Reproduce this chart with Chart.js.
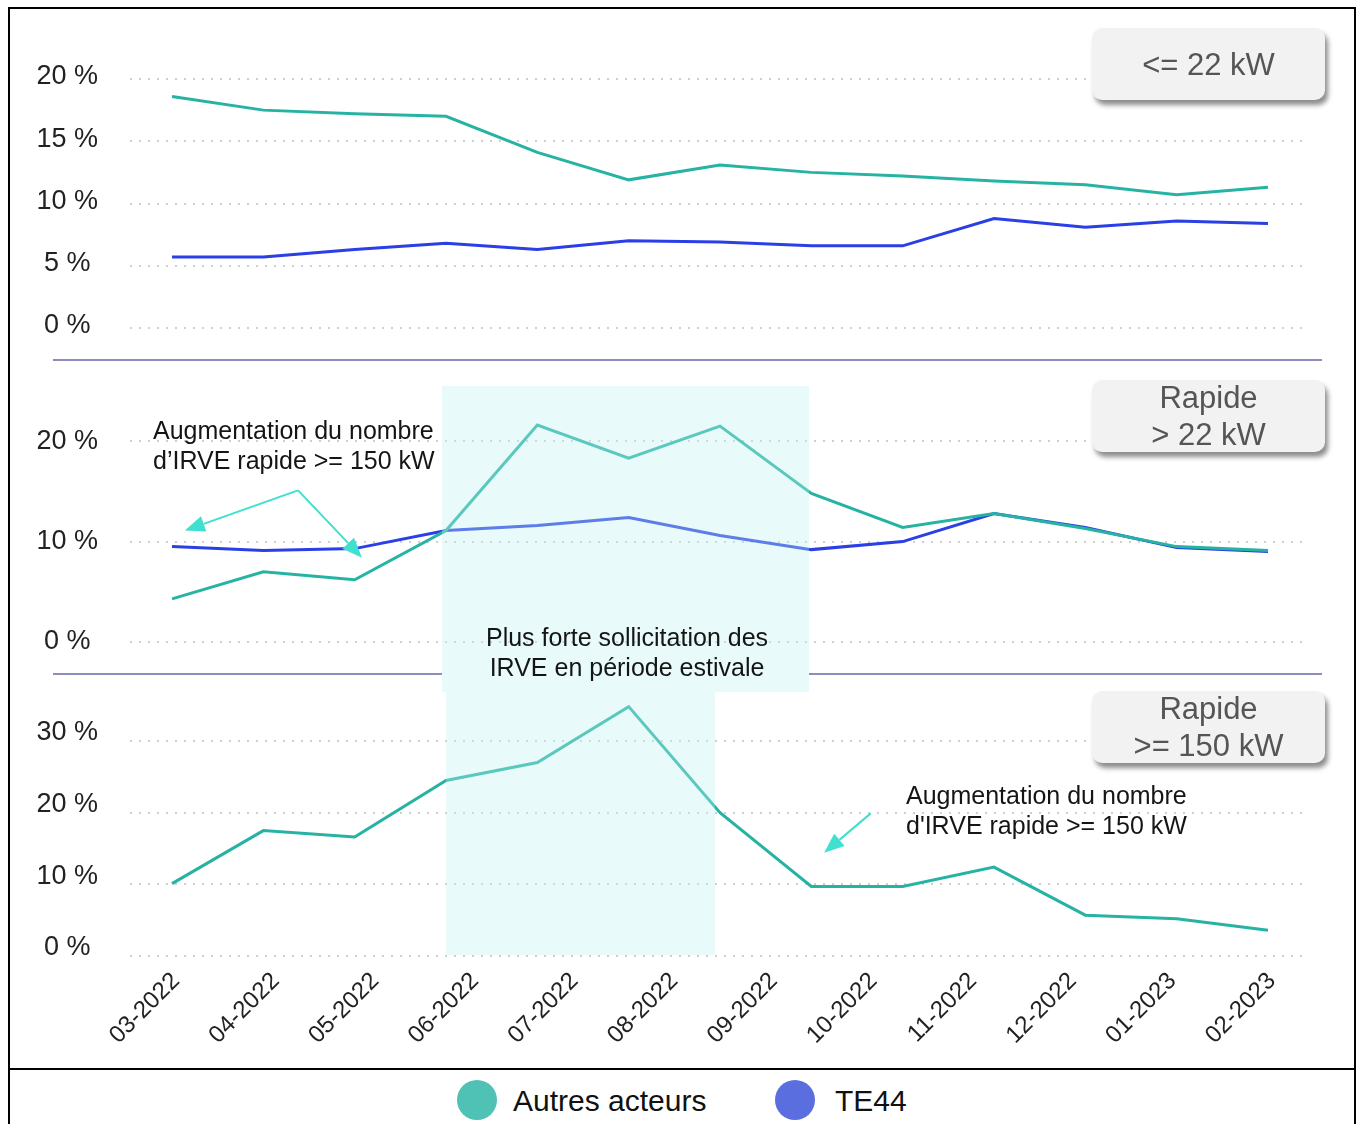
<!DOCTYPE html>
<html>
<head>
<meta charset="utf-8">
<script src="https://cdn.jsdelivr.net/npm/chart.js@4.4.1/dist/chart.umd.min.js"></script>
<style>
html,body{margin:0;padding:0;background:#fff;}
#wrap{position:relative;width:1357px;height:1124px;overflow:hidden;font-family:"Liberation Sans",Arial,sans-serif;background:#fff;}
canvas{position:absolute;left:0;}
.sep{position:absolute;height:2px;background:#8c8cbf;}
.shade{position:absolute;background:rgba(190,242,242,0.35);}
.note{position:absolute;font-size:25px;line-height:30px;color:#151515;white-space:nowrap;}
.box{position:absolute;width:233px;height:72px;background:#f2f2f2;border-radius:10px;box-shadow:3px 5px 5px rgba(0,0,0,0.45);color:#555;font-size:31px;line-height:37px;text-align:center;display:flex;flex-direction:column;justify-content:center;}
.bl{position:absolute;background:#000;}
.dot{position:absolute;width:40px;height:40px;border-radius:50%;}
.leg{position:absolute;font-size:30px;line-height:40px;color:#111;white-space:nowrap;}
</style>
</head>
<body>
<div id="wrap">
  <canvas id="c1" width="1357" height="360" style="top:0;width:1357px;height:360px"></canvas>
  <canvas id="c2" width="1357" height="314" style="top:360px;width:1357px;height:314px"></canvas>
  <canvas id="c3" width="1357" height="395" style="top:674px;width:1357px;height:395px"></canvas>

  <div class="sep" style="left:53px;top:359px;width:1269px;"></div>
  <div class="sep" style="left:53px;top:673px;width:389px;"></div>
  <div class="sep" style="left:809px;top:673px;width:513px;"></div>

  <div class="shade" style="left:442px;top:386px;width:367px;height:306px;"></div>
  <div class="shade" style="left:446px;top:692px;width:269px;height:263px;"></div>

  <div class="note" style="left:153px;top:415px;">Augmentation du nombre<br>d’IRVE rapide &gt;= 150 kW</div>
  <div class="note" style="left:484px;top:622px;text-align:center;width:286px;">Plus forte sollicitation des<br>IRVE en période estivale</div>
  <div class="note" style="left:906px;top:780px;">Augmentation du nombre<br>d'IRVE rapide &gt;= 150 kW</div>

  <div class="box" style="left:1092px;top:28px;"><div>&lt;= 22 kW</div></div>
  <div class="box" style="left:1092px;top:380px;"><div>Rapide</div><div>&gt; 22 kW</div></div>
  <div class="box" style="left:1092px;top:691px;"><div>Rapide</div><div>&gt;= 150 kW</div></div>

  <div class="bl" style="left:8px;top:7px;width:1348px;height:2px;"></div>
  <div class="bl" style="left:8px;top:7px;width:2px;height:1117px;"></div>
  <div class="bl" style="left:1354px;top:7px;width:2px;height:1117px;"></div>
  <div class="bl" style="left:8px;top:1068px;width:1348px;height:2px;"></div>

  <div class="dot" style="left:457px;top:1080px;background:#50c1b5;"></div>
  <div class="leg" style="left:513px;top:1081px;">Autres acteurs</div>
  <div class="dot" style="left:775px;top:1080px;background:#5a6ee0;"></div>
  <div class="leg" style="left:835px;top:1081px;">TE44</div>
</div>

<script>
// ---- Data ----
const months = ['03-2022','04-2022','05-2022','06-2022','07-2022','08-2022','09-2022','10-2022','11-2022','12-2022','01-2023','02-2023'];
const seriesNames = ['Autres acteurs', 'TE44'];
// Panel "<= 22 kW"
const autresLe22 = [18.6, 17.5, 17.2, 17.0, 14.1, 11.9, 13.1, 12.5, 12.2, 11.8, 11.5, 10.7, 11.3];
const te44Le22   = [5.7, 5.7, 6.3, 6.8, 6.3, 7.0, 6.9, 6.6, 6.6, 8.8, 8.1, 8.6, 8.4];
// Panel "Rapide > 22 kW"
const autresGt22 = [4.3, 7.0, 6.2, 11.1, 21.6, 18.3, 21.5, 14.8, 11.4, 12.8, 11.3, 9.5, 9.1];
const te44Gt22   = [9.5, 9.1, 9.3, 11.1, 11.6, 12.4, 10.6, 9.2, 10.0, 12.8, 11.4, 9.4, 9.0];
// Panel "Rapide >= 150 kW"
const autresGe150 = [10.1, 17.5, 16.6, 24.5, 27.0, 34.8, 20.0, 9.7, 9.7, 12.4, 5.7, 5.2, 3.6];
// y tick steps per panel
const yStep1 = 5, yStep2 = 10, yStep3 = 10;

// ---- Styling ----
const TEAL = '#27b3a3';
const BLUE = '#2a3fe5';
const ARROW = '#3fe0d0';
const FONT = '"Liberation Sans", Arial, sans-serif';

function toXY(arr){ return arr.map((v,i)=>({x:i, y:v})); }
function ds(label, arr, color){
  return {label, data: toXY(arr), borderColor: color, backgroundColor: color,
    borderWidth: 3, pointRadius: 0, tension: 0, fill: false, clip: false};
}

function arrowPlugin(list){
  return {
    id: 'arrows',
    afterDatasetsDraw(chart){
      const ctx = chart.ctx, xs = chart.scales.x, ys = chart.scales.y;
      ctx.save();
      ctx.strokeStyle = ARROW; ctx.fillStyle = ARROW; ctx.lineWidth = 2;
      list.forEach(a => {
        const x1 = xs.getPixelForValue(a.from[0]), y1 = ys.getPixelForValue(a.from[1]);
        const x2 = xs.getPixelForValue(a.to[0]), y2 = ys.getPixelForValue(a.to[1]);
        const ang = Math.atan2(y2 - y1, x2 - x1);
        const hl = 20, hw = 8;
        const bx = x2 - hl*Math.cos(ang), by = y2 - hl*Math.sin(ang);
        ctx.beginPath(); ctx.moveTo(x1, y1); ctx.lineTo(bx, by); ctx.stroke();
        ctx.beginPath();
        ctx.moveTo(x2, y2);
        ctx.lineTo(bx + hw*Math.sin(ang), by - hw*Math.cos(ang));
        ctx.lineTo(bx - hw*Math.sin(ang), by + hw*Math.cos(ang));
        ctx.closePath(); ctx.fill();
      });
      ctx.restore();
    }
  };
}

function yScale(max, step, labelOffset){
  return {
    type: 'linear', position: 'left', min: 0, max: max,
    afterFit(s){ s.width = 130; s.paddingTop = 0; s.paddingBottom = 0; },
    grid: { color: '#cfcfcf', lineWidth: 2, drawTicks: false },
    border: { display: false, dash: [2, 7] },
    ticks: { stepSize: step, includeBounds: false, padding: 32, crossAlign: 'center',
      labelOffset: labelOffset, color: '#222', font: { family: FONT, size: 27 },
      callback: v => v + ' %' }
  };
}
const xData = { type: 'linear', display: false, min: -0.46, max: 12.405 };

function base(padTop, padBottom){
  return {
    responsive: false, animation: false,
    layout: { padding: { top: padTop, bottom: padBottom, left: 0, right: 52 } },
    plugins: { legend: { display: false }, tooltip: { enabled: false } }
  };
}

// Chart 1
new Chart(document.getElementById('c1'), {
  type: 'line',
  data: { datasets: [ ds(seriesNames[0], autresLe22, TEAL), ds(seriesNames[1], te44Le22, BLUE) ] },
  options: Object.assign(base(79, 32), { scales: { x: xData, y: yScale(20, yStep1, -2) } })
});

// Chart 2
new Chart(document.getElementById('c2'), {
  type: 'line',
  data: { datasets: [ ds(seriesNames[0], autresGt22, TEAL), ds(seriesNames[1], te44Gt22, BLUE) ] },
  options: Object.assign(base(41, 32), { scales: { x: xData, y: yScale(24, yStep2, 0) } }),
  plugins: [ arrowPlugin([
    { from: [1.38, 15.1], to: [0.14, 11.1] },
    { from: [1.38, 15.1], to: [2.08, 8.4] }
  ]) ]
});

// Chart 3
new Chart(document.getElementById('c3'), {
  type: 'line',
  data: { datasets: [ ds(seriesNames[0], autresGe150, TEAL) ] },
  options: Object.assign(base(24, 0), { scales: {
    x: xData,
    xl: { type: 'linear', position: 'bottom', min: -0.4616, max: 11.331,
      afterFit(s){ s.height = 113; s.paddingLeft = 0; s.paddingRight = 0; },
      grid: { display: false }, border: { display: false },
      ticks: { stepSize: 1, includeBounds: false, autoSkip: false, maxRotation: 45, minRotation: 45,
        padding: 3, color: '#222', font: { family: FONT, size: 24 },
        callback: v => months[v] }
    },
    y: yScale(36, yStep3, -8)
  } }),
  plugins: [ arrowPlugin([ { from: [7.65, 19.9], to: [7.14, 14.4] } ]) ]
});
</script>
</body>
</html>
